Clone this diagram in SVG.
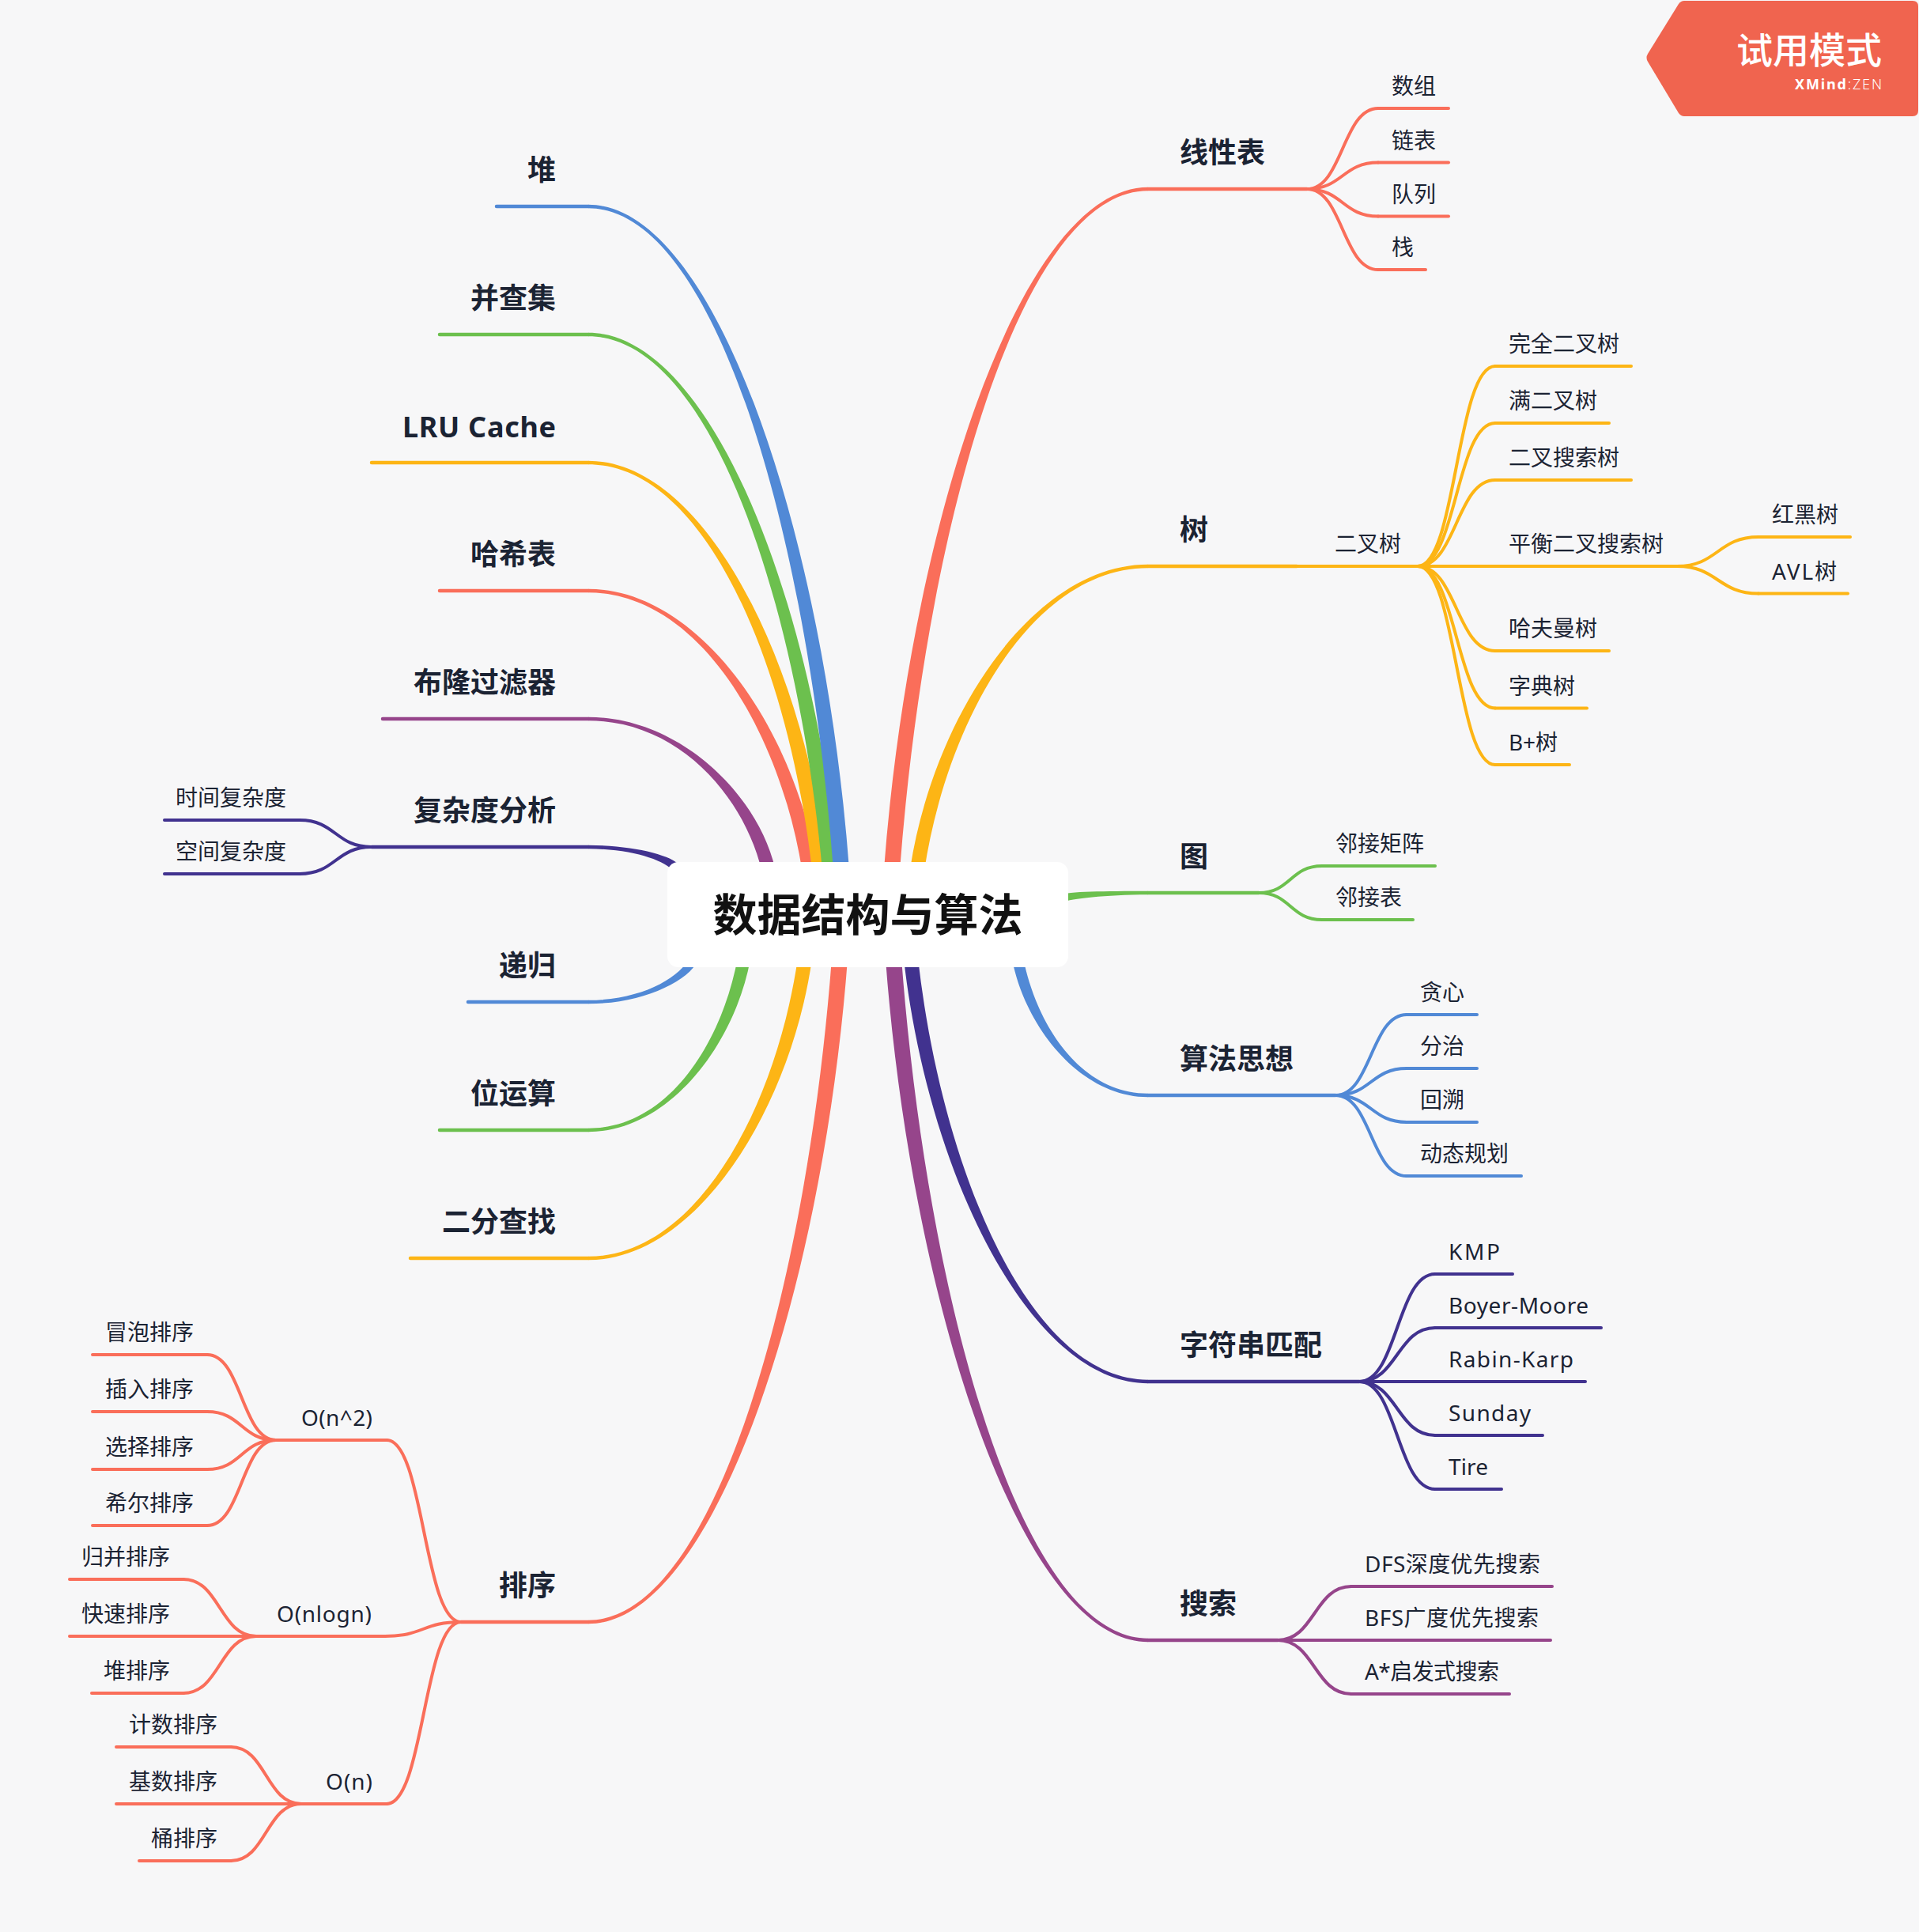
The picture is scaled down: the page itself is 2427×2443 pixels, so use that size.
<svg xmlns="http://www.w3.org/2000/svg" width="2427" height="2443" viewBox="0 0 2427 2443">
<style>
.bg{fill:#F7F7F8}
.c{fill:none;stroke-width:4;stroke-linecap:round}
.u{fill:none;stroke-width:4.5;stroke-linecap:round}
.s{fill:none;stroke-width:4;stroke-linecap:round}
.r{stroke:#FA6E5A}.y{stroke:#FDB515}.g{stroke:#6CC04E}.b{stroke:#5189D6}.d{stroke:#41328F}.m{stroke:#96458B}
.fr{fill:#FA6E5A}.fy{fill:#FDB515}.fg{fill:#6CC04E}.fb{fill:#5189D6}.fd{fill:#41328F}.fm{fill:#96458B}
text{font-family:"Noto Sans","Noto Sans CJK SC",sans-serif;fill:#1B2333}
.t1{font-size:36px;font-weight:700}
.t2{font-size:28px}
.e{text-anchor:end}
</style>
<rect class="bg" x="0" y="0" width="2427" height="2443"/>

<g id="connectors">
  <!-- main tapered branches -->
  <path class="fr" d="M744,749.25 C884,749.25 986.6,925 1014.6,1101.5 L1033.4,1098.5 C1005.4,922 884,744.75 744,744.75 Z"/>
  <path class="fy" d="M744,587.25 C893,587.25 998,843.7 1027.1,1101.2 L1046.9,1098.9 C1018,841.4 893,582.75 744,582.75 Z"/>
  <path class="fg" d="M744,425.25 C898.5,425.25 1009.1,762.4 1040,1100.9 L1060,1099.1 C1029.1,760.6 898.5,420.75 744,420.75 Z"/>
  <path class="fb" d="M744,263.25 C906,263.25 1022.6,681.3 1054,1100.8 L1074,1099.2 C1042.6,679.7 906,258.75 744,258.75 Z"/>
  <path class="fm" d="M744,911.25 C858,911.25 940.9,1006.5 963.7,1102 L980.3,1098 C957.5,1002.5 858,906.75 744,906.75 Z"/>
  <path class="fd" d="M744,1073.25 C800,1073.25 840.6,1088 851.8,1101.5 L860.2,1094.5 C849,1081 800,1068.75 744,1068.75 Z"/>
  <path class="fb" d="M744,1269.25 C811,1269.25 869.5,1241.9 882.9,1214.4 L873.1,1209.6 C859.7,1237.1 811,1264.75 744,1264.75 Z"/>
  <path class="fg" d="M744,1431.25 C845,1431.25 928.7,1322 948.9,1213.5 L933.1,1210.5 C912.9,1319 845,1426.75 744,1426.75 Z"/>
  <path class="fy" d="M744,1593.25 C881,1593.25 999.5,1402.8 1026.9,1213.3 L1009.1,1210.7 C981.7,1400.2 881,1588.75 744,1588.75 Z"/>
  <path class="fr" d="M744,2053.25 C903,2053.25 1040.2,1632.3 1072,1212.8 L1052,1211.2 C1020.2,1630.7 903,2048.75 744,2048.75 Z"/>
  <path class="fr" d="M1452,236.75 C1290,236.75 1150.4,668.75 1118,1099.25 L1138,1100.75 C1170.4,670.25 1290,241.25 1452,241.25 Z"/>
  <path class="fy" d="M1452,713.75 C1306,713.75 1180.3,906.6 1151.1,1098.6 L1168.9,1101.4 C1198.1,909.4 1306,718.25 1452,718.25 Z"/>
  <path class="fg" d="M1452,1126.75 C1397,1126.75 1351.3,1127.3 1340.3,1131.3 L1343.7,1140.7 C1354.7,1136.7 1397,1131.25 1452,1131.25 Z"/>
  <path class="fb" d="M1452,1382.75 C1367,1382.75 1310.9,1297.1 1293.9,1210.6 L1280.1,1213.4 C1297.1,1299.9 1367,1387.25 1452,1387.25 Z"/>
  <path class="fm" d="M1452,2071.75 C1291,2071.75 1172.2,1642.3 1140,1211.3 L1120,1212.7 C1152.2,1643.7 1291,2076.25 1452,2076.25 Z"/>
  <path class="fd" d="M1452,1744.75 C1302,1744.75 1190.9,1478.5 1160.9,1211 L1143.1,1213 C1173.1,1480.5 1302,1749.25 1452,1749.25 Z"/>

  <!-- 线性表 -->
  <path class="c r" d="M1653,239 C1698,239 1698,137 1743,137"/>
  <path class="c r" d="M1653,239 C1698,239 1698,205.5 1743,205.5"/>
  <path class="c r" d="M1653,239 C1698,239 1698,273.5 1743,273.5"/>
  <path class="c r" d="M1653,239 C1698,239 1698,341 1743,341"/>
  <!-- 树 -->
  <path class="c y" d="M1640,716 H1671"/>
  <path class="c y" d="M1793,716 C1842,716 1842,463 1891,463"/>
  <path class="c y" d="M1793,716 C1842,716 1842,535 1891,535"/>
  <path class="c y" d="M1793,716 C1842,716 1842,607 1891,607"/>
  <path class="c y" d="M1793,716 H1891"/>
  <path class="c y" d="M1793,716 C1842,716 1842,823 1891,823"/>
  <path class="c y" d="M1793,716 C1842,716 1842,895.5 1891,895.5"/>
  <path class="c y" d="M1793,716 C1842,716 1842,967 1891,967"/>
  <path class="c y" d="M2121,716 C2172.5,716 2172.5,679 2224,679"/>
  <path class="c y" d="M2121,716 C2172.5,716 2172.5,750.5 2224,750.5"/>
  <!-- 图 -->
  <path class="c g" d="M1592,1129 C1632,1129 1632,1095 1672,1095"/>
  <path class="c g" d="M1592,1129 C1632,1129 1632,1163 1672,1163"/>
  <!-- 算法思想 -->
  <path class="c b" d="M1689,1385 C1734,1385 1734,1283 1779,1283"/>
  <path class="c b" d="M1689,1385 C1734,1385 1734,1351 1779,1351"/>
  <path class="c b" d="M1689,1385 C1734,1385 1734,1419 1779,1419"/>
  <path class="c b" d="M1689,1385 C1734,1385 1734,1487 1779,1487"/>
  <!-- 字符串匹配 -->
  <path class="c d" d="M1719,1747 C1767,1747 1767,1611 1815,1611"/>
  <path class="c d" d="M1719,1747 C1767,1747 1767,1679 1815,1679"/>
  <path class="c d" d="M1719,1747 H1815"/>
  <path class="c d" d="M1719,1747 C1767,1747 1767,1815 1815,1815"/>
  <path class="c d" d="M1719,1747 C1767,1747 1767,1883 1815,1883"/>
  <!-- 搜索 -->
  <path class="c m" d="M1616,2074 C1662.5,2074 1662.5,2006 1709,2006"/>
  <path class="c m" d="M1616,2074 H1709"/>
  <path class="c m" d="M1616,2074 C1662.5,2074 1662.5,2142 1709,2142"/>
  <!-- 复杂度分析 -->
  <path class="c d" d="M470,1071 C424.5,1071 424.5,1037 379,1037"/>
  <path class="c d" d="M470,1071 C424.5,1071 424.5,1105 379,1105"/>
  <!-- 排序 -->
  <path class="c r" d="M583,2051 C536,2051 536,1821 489,1821"/>
  <path class="c r" d="M583,2051 C535,2051 535,2069 487,2069"/>
  <path class="c r" d="M583,2051 C536,2051 536,2281 489,2281"/>
  <path class="c r" d="M349,1821 C305.5,1821 305.5,1713 262,1713"/>
  <path class="c r" d="M349,1821 C305.5,1821 305.5,1785 262,1785"/>
  <path class="c r" d="M349,1821 C305.5,1821 305.5,1858 262,1858"/>
  <path class="c r" d="M349,1821 C305.5,1821 305.5,1929 262,1929"/>
  <path class="c r" d="M324,2069 C278,2069 278,1997 232,1997"/>
  <path class="c r" d="M324,2069 H232"/>
  <path class="c r" d="M324,2069 C278,2069 278,2141 232,2141"/>
  <path class="c r" d="M381,2281 C336.5,2281 336.5,2209 292,2209"/>
  <path class="c r" d="M381,2281 H292"/>
  <path class="c r" d="M381,2281 C336.5,2281 336.5,2353 292,2353"/>
</g>

<g id="root">
  <rect x="844" y="1090" width="507" height="133" rx="14" fill="#FFFFFF"/>
  <text x="1097.5" y="1177" text-anchor="middle" style="font-size:56px;font-weight:700;fill:#111111">数据结构与算法</text>
</g>

<!-- right main topics -->
<g id="n-xianxingbiao"><path class="u r" d="M1452,239 H1653"/><text class="t1" x="1492" y="206">线性表</text></g>
<g id="n-shuzu"><path class="s r" d="M1743,137 H1832"/><text class="t2" x="1760" y="119">数组</text></g>
<g id="n-lianbiao"><path class="s r" d="M1743,205.5 H1832"/><text class="t2" x="1760" y="187.5">链表</text></g>
<g id="n-duilie"><path class="s r" d="M1743,273.5 H1832"/><text class="t2" x="1760" y="255.5">队列</text></g>
<g id="n-zhan"><path class="s r" d="M1743,341 H1803"/><text class="t2" x="1760" y="323">栈</text></g>

<g id="n-shu"><path class="u y" d="M1452,716 H1640"/><text class="t1" x="1492" y="683">树</text></g>
<g id="n-erchashu"><path class="s y" d="M1671,716 H1793"/><text class="t2" x="1688" y="698">二叉树</text></g>
<g id="n-wanquan"><path class="s y" d="M1891,463 H2063"/><text class="t2" x="1908" y="445">完全二叉树</text></g>
<g id="n-man"><path class="s y" d="M1891,535 H2035"/><text class="t2" x="1908" y="517">满二叉树</text></g>
<g id="n-bst"><path class="s y" d="M1891,607 H2063"/><text class="t2" x="1908" y="589">二叉搜索树</text></g>
<g id="n-pingheng"><path class="s y" d="M1891,716 H2121"/><text class="t2" x="1908" y="698">平衡二叉搜索树</text></g>
<g id="n-hongheishu"><path class="s y" d="M2224,679 H2340"/><text class="t2" x="2241" y="661">红黑树</text></g>
<g id="n-avl"><path class="s y" d="M2224,750.5 H2337"/><text class="t2" x="2241" y="732.5" textLength="82">AVL树</text></g>
<g id="n-hafuman"><path class="s y" d="M1891,823 H2035"/><text class="t2" x="1908" y="805">哈夫曼树</text></g>
<g id="n-zidian"><path class="s y" d="M1891,895.5 H2007"/><text class="t2" x="1908" y="877.5">字典树</text></g>
<g id="n-bplus"><path class="s y" d="M1891,967 H1985"/><text class="t2" x="1908" y="949" textLength="62">B+树</text></g>

<g id="n-tu"><path class="u g" d="M1452,1129 H1592"/><text class="t1" x="1492" y="1096">图</text></g>
<g id="n-juzhen"><path class="s g" d="M1672,1095 H1815"/><text class="t2" x="1689" y="1077">邻接矩阵</text></g>
<g id="n-linjiebiao"><path class="s g" d="M1672,1163 H1787"/><text class="t2" x="1689" y="1145">邻接表</text></g>

<g id="n-suanfa"><path class="u b" d="M1452,1385 H1689"/><text class="t1" x="1492" y="1352">算法思想</text></g>
<g id="n-tanxin"><path class="s b" d="M1779,1283 H1868"/><text class="t2" x="1796" y="1265">贪心</text></g>
<g id="n-fenzhi"><path class="s b" d="M1779,1351 H1868"/><text class="t2" x="1796" y="1333">分治</text></g>
<g id="n-huisu"><path class="s b" d="M1779,1419 H1868"/><text class="t2" x="1796" y="1401">回溯</text></g>
<g id="n-dp"><path class="s b" d="M1779,1487 H1924"/><text class="t2" x="1796" y="1469">动态规划</text></g>

<g id="n-zifuchuan"><path class="u d" d="M1452,1747 H1719"/><text class="t1" x="1492" y="1714">字符串匹配</text></g>
<g id="n-kmp"><path class="s d" d="M1815,1611 H1913"/><text class="t2" x="1832" y="1593" textLength="65">KMP</text></g>
<g id="n-bm"><path class="s d" d="M1815,1679 H2025"/><text class="t2" x="1832" y="1661" textLength="177">Boyer-Moore</text></g>
<g id="n-rk"><path class="s d" d="M1815,1747 H2005"/><text class="t2" x="1832" y="1729" textLength="158">Rabin-Karp</text></g>
<g id="n-sunday"><path class="s d" d="M1815,1815 H1951"/><text class="t2" x="1832" y="1797" textLength="104">Sunday</text></g>
<g id="n-tire"><path class="s d" d="M1815,1883 H1899"/><text class="t2" x="1832" y="1865" textLength="50">Tire</text></g>

<g id="n-sousuo"><path class="u m" d="M1452,2074 H1616"/><text class="t1" x="1492" y="2041">搜索</text></g>
<g id="n-dfs"><path class="s m" d="M1709,2006 H1963"/><text class="t2" x="1726" y="1988" textLength="222">DFS深度优先搜索</text></g>
<g id="n-bfs"><path class="s m" d="M1709,2074 H1961"/><text class="t2" x="1726" y="2056" textLength="220">BFS广度优先搜索</text></g>
<g id="n-astar"><path class="s m" d="M1709,2142 H1909"/><text class="t2" x="1726" y="2124" textLength="170">A*启发式搜索</text></g>

<!-- left main topics -->
<g id="n-dui"><path class="u b" d="M744,261 H628"/><text class="t1 e" x="703" y="228">堆</text></g>
<g id="n-bingchaji"><path class="u g" d="M744,423 H556"/><text class="t1 e" x="703" y="390">并查集</text></g>
<g id="n-lru"><path class="u y" d="M744,585 H470"/><text class="t1 e" x="703" y="553" textLength="194">LRU Cache</text></g>
<g id="n-haxi"><path class="u r" d="M744,747 H556"/><text class="t1 e" x="703" y="714">哈希表</text></g>
<g id="n-bulong"><path class="u m" d="M744,909 H484"/><text class="t1 e" x="703" y="876">布隆过滤器</text></g>
<g id="n-fuzadu"><path class="u d" d="M744,1071 H470"/><text class="t1 e" x="703" y="1038">复杂度分析</text></g>
<g id="n-shijian"><path class="s d" d="M379,1037 H208"/><text class="t2 e" x="362" y="1019">时间复杂度</text></g>
<g id="n-kongjian"><path class="s d" d="M379,1105 H208"/><text class="t2 e" x="362" y="1087">空间复杂度</text></g>
<g id="n-digui"><path class="u b" d="M744,1267 H592"/><text class="t1 e" x="703" y="1234">递归</text></g>
<g id="n-weiyunsuan"><path class="u g" d="M744,1429 H556"/><text class="t1 e" x="703" y="1396">位运算</text></g>
<g id="n-erfen"><path class="u y" d="M744,1591 H519"/><text class="t1 e" x="703" y="1558">二分查找</text></g>
<g id="n-paixu"><path class="u r" d="M744,2051 H583"/><text class="t1 e" x="703" y="2018">排序</text></g>

<g id="n-on2"><path class="s r" d="M489,1821 H349"/><text class="t2 e" x="471" y="1803" textLength="90">O(n^2)</text></g>
<g id="n-maopao"><path class="s r" d="M262,1713 H117"/><text class="t2 e" x="245" y="1695">冒泡排序</text></g>
<g id="n-charu"><path class="s r" d="M262,1785 H117"/><text class="t2 e" x="245" y="1767">插入排序</text></g>
<g id="n-xuanze"><path class="s r" d="M262,1858 H117"/><text class="t2 e" x="245" y="1840">选择排序</text></g>
<g id="n-xier"><path class="s r" d="M262,1929 H117"/><text class="t2 e" x="245" y="1911">希尔排序</text></g>

<g id="n-onlogn"><path class="s r" d="M487,2069 H324"/><text class="t2 e" x="470" y="2051" textLength="120">O(nlogn)</text></g>
<g id="n-guibing"><path class="s r" d="M232,1997 H88"/><text class="t2 e" x="215" y="1979">归并排序</text></g>
<g id="n-kuaisu"><path class="s r" d="M232,2069 H88"/><text class="t2 e" x="215" y="2051">快速排序</text></g>
<g id="n-duipaixu"><path class="s r" d="M232,2141 H116"/><text class="t2 e" x="215" y="2123">堆排序</text></g>

<g id="n-on"><path class="s r" d="M489,2281 H381"/><text class="t2 e" x="471" y="2263" textLength="59">O(n)</text></g>
<g id="n-jishu"><path class="s r" d="M292,2209 H147"/><text class="t2 e" x="275" y="2191">计数排序</text></g>
<g id="n-jishu2"><path class="s r" d="M292,2281 H147"/><text class="t2 e" x="275" y="2263">基数排序</text></g>
<g id="n-tong"><path class="s r" d="M292,2353 H176"/><text class="t2 e" x="275" y="2335">桶排序</text></g>

<!-- watermark -->
<g id="watermark">
  <path d="M2130,1 L2419,1 Q2426,1 2426,8 L2426,140 Q2426,147 2419,147 L2130,147 Q2126,147 2123,143 L2084,78 Q2081,73 2084,68 L2123,5 Q2126,1 2130,1 Z" fill="#F0644F"/>
  <text x="2380" y="80" text-anchor="end" style="font-size:46px;font-weight:500;fill:#FFFFFF">试用模式</text>
  <text x="2380" y="113" text-anchor="end" textLength="110" style="font-size:18px;font-weight:700;fill:#FFFFFF">XMind<tspan font-weight="300">:ZEN</tspan></text>
</g>
</svg>
